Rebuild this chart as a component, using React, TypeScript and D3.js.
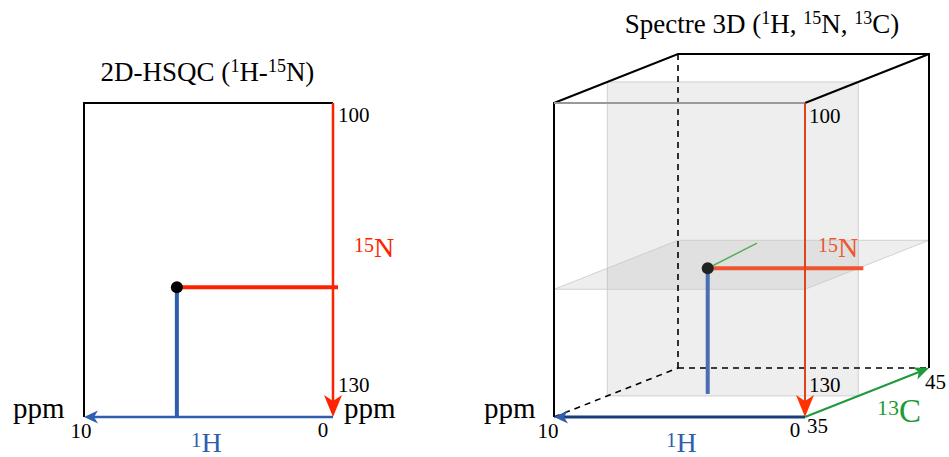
import React from "react";
import * as d3 from "d3";

// ---- data ----
const H_TICKS = [10, 0];          // 1H ppm (left → right)
const N_TICKS = [100, 130];       // 15N ppm (top → bottom)
const C_TICKS = [35, 45];         // 13C ppm (front → back)
const TITLES = ["2D-HSQC", "Spectre 3D"];
const PEAK_2D = { h: 6.27, n: 117.6 };
const PEAK_3D = { h: 6.0, n: 117.8, c: 39.3 };

const W = 949, HGT = 457;
const SERIF = "'Liberation Serif', 'DejaVu Serif', serif";

const RED = "#ff2200";
const RED3 = "#e0421c";
const RED3H = "#ee5530";
const BLUE = "#2e5fae";
const BLUE3 = "#4a6db3";
const NAVY = "#1d3d78";
const GREEN = "#1f9a3a";
const GREEN_L = "#55b055";
const TICK = 21;

function arrowHead(tip: [number, number], from: [number, number], L: number, Wd: number, notch: number) {
  const dx = tip[0] - from[0], dy = tip[1] - from[1];
  const len = Math.hypot(dx, dy);
  const ux = dx / len, uy = dy / len;
  const px = -uy, py = ux;
  const bx = tip[0] - ux * L, by = tip[1] - uy * L;
  const nx = tip[0] - ux * (L - notch), ny = tip[1] - uy * (L - notch);
  const p = d3.path();
  p.moveTo(tip[0], tip[1]);
  p.lineTo(bx + px * Wd, by + py * Wd);
  p.lineTo(nx, ny);
  p.lineTo(bx - px * Wd, by - py * Wd);
  p.closePath();
  return p.toString();
}

function SupLabel({ x, y, sup, main, color, big, small }: any) {
  const raise = 0.66 * (big - small);
  return (
    <text x={x} y={y} fill={color} fontFamily={SERIF} fontSize={big}>
      <tspan fontSize={small} dy={-raise}>{sup}</tspan>
      <tspan dy={raise}>{main}</tspan>
    </text>
  );
}

function Left() {
  const x = d3.scaleLinear().domain(H_TICKS).range([84, 333]);
  const y = d3.scaleLinear().domain(N_TICKS).range([103, 417]);
  const [h0, h1] = H_TICKS; const [n0, n1] = N_TICKS;
  const px = x(PEAK_2D.h), py = y(PEAK_2D.n);
  const line = d3.line();
  return (
    <g>
      <text x={(x(h0) + x(h1)) / 2 - 1} y={81} fontFamily={SERIF} fontSize={27} textAnchor="middle">
        {TITLES[0] + " ("}
        <tspan fontSize={18} dy={-9}>1</tspan>
        <tspan dy={9}>H-</tspan>
        <tspan fontSize={18} dy={-9}>15</tspan>
        <tspan dy={9}>N)</tspan>
      </text>
      {/* frame */}
      <path d={line([[x(h0), y(n1)], [x(h0), y(n0)], [x(h1), y(n0)]])!} fill="none" stroke="#000" strokeWidth={2} />
      {/* 15N axis */}
      <line x1={x(h1)} y1={y(n0)} x2={x(h1)} y2={y(n1) - 14} stroke={RED} strokeWidth={2.5} />
      <path d={arrowHead([x(h1), y(n1)], [x(h1), y(n0)], 22, 9, 6)} fill={RED} />
      {/* 1H axis */}
      <line x1={x(h1)} y1={y(n1)} x2={x(h0) + 8} y2={y(n1)} stroke={BLUE} strokeWidth={2.5} />
      <path d={arrowHead([x(h0), y(n1)], [x(h1), y(n1)], 14, 6.5, 4)} fill={BLUE} />
      {/* peak projections */}
      <line x1={px} y1={py} x2={x(h1) + 5} y2={py} stroke={RED} strokeWidth={4} />
      <line x1={px} y1={py} x2={px} y2={y(n1)} stroke={BLUE} strokeWidth={4} />
      <circle cx={px} cy={py} r={6} fill="#000" />
      {/* tick labels */}
      <text x={x(h1) + 5} y={y(n0) + 19} fontFamily={SERIF} fontSize={TICK}>{N_TICKS[0]}</text>
      <text x={x(h1) + 5} y={y(n1) - 25} fontFamily={SERIF} fontSize={TICK}>{N_TICKS[1]}</text>
      <text x={x(h0) - 3} y={y(n1) + 21} fontFamily={SERIF} fontSize={TICK} textAnchor="middle">{H_TICKS[0]}</text>
      <text x={x(h1) - 10} y={y(n1) + 20} fontFamily={SERIF} fontSize={TICK} textAnchor="middle">{H_TICKS[1]}</text>
      <text x={x(h0) - 71} y={y(n1) + 1} fontFamily={SERIF} fontSize={29}>ppm</text>
      <text x={x(h1) + 11} y={y(n1) + 1} fontFamily={SERIF} fontSize={29}>ppm</text>
      <SupLabel x={x(h1) + 21} y={257} sup="15" main="N" color={RED} big={28} small={20} />
      <SupLabel x={191} y={452} sup="1" main="H" color={BLUE} big={28} small={21} />
    </g>
  );
}

function Right() {
  const x = d3.scaleLinear().domain(H_TICKS).range([554, 805]);
  const y = d3.scaleLinear().domain(N_TICKS).range([103, 417]);
  const c = d3.scaleLinear().domain(C_TICKS).range([0, 1]);
  const DX = 124, DY = -49;
  const P = (h: number, n: number, cc: number): [number, number] => [x(h) + c(cc) * DX, y(n) + c(cc) * DY];
  const [h0, h1] = H_TICKS; const [n0, n1] = N_TICKS; const [c0, c1] = C_TICKS;
  const line = d3.line();
  const poly = (pts: [number, number][]) => line(pts)! + "Z";
  const dot = P(PEAK_3D.h, PEAK_3D.n, PEAK_3D.c);
  const dash = "6,5";
  return (
    <g>
      <text x={762} y={33} fontFamily={SERIF} fontSize={27} textAnchor="middle">
        {TITLES[1] + " ("}
        <tspan fontSize={18} dy={-9}>1</tspan>
        <tspan dy={9}>H, </tspan>
        <tspan fontSize={18} dy={-9}>15</tspan>
        <tspan dy={9}>N, </tspan>
        <tspan fontSize={18} dy={-9}>13</tspan>
        <tspan dy={9}>C)</tspan>
      </text>
      {/* planes */}
      <path d={poly([P(h0, n0, PEAK_3D.c), P(h1, n0, PEAK_3D.c), P(h1, n1, PEAK_3D.c), P(h0, n1, PEAK_3D.c)])}
        fill="#9a9a9a" fillOpacity={0.17} stroke="#c8c8c8" strokeWidth={0.8} />
      <path d={poly([P(h0, PEAK_3D.n, c0), P(h1, PEAK_3D.n, c0), P(h1, PEAK_3D.n, c1), P(h0, PEAK_3D.n, c1)])}
        fill="#9a9a9a" fillOpacity={0.17} stroke="#c8c8c8" strokeWidth={0.8} />
      {/* hidden edges */}
      <line x1={P(h0, n0, c1)[0]} y1={P(h0, n0, c1)[1]} x2={P(h0, n1, c1)[0]} y2={P(h0, n1, c1)[1]} stroke="#000" strokeWidth={1.6} strokeDasharray={dash} />
      <line x1={P(h0, n1, c1)[0]} y1={P(h0, n1, c1)[1]} x2={P(h1, n1, c1)[0]} y2={P(h1, n1, c1)[1]} stroke="#000" strokeWidth={1.6} strokeDasharray={dash} />
      <line x1={P(h0, n1, c0)[0]} y1={P(h0, n1, c0)[1]} x2={P(h0, n1, c1)[0]} y2={P(h0, n1, c1)[1]} stroke="#000" strokeWidth={1.6} strokeDasharray={dash} />
      {/* visible edges */}
      <path d={line([P(h0, n1, c0), P(h0, n0, c0), P(h0, n0, c1), P(h1, n0, c1), P(h1, n1, c1)])!} fill="none" stroke="#000" strokeWidth={2} />
      <line x1={P(h1, n0, c0)[0]} y1={P(h1, n0, c0)[1]} x2={P(h1, n0, c1)[0]} y2={P(h1, n0, c1)[1]} stroke="#000" strokeWidth={2} />
      <line x1={P(h0, n0, c0)[0]} y1={P(h0, n0, c0)[1]} x2={P(h1, n0, c0)[0]} y2={P(h1, n0, c0)[1]} stroke="#999" strokeWidth={2} />
      {/* peak projections */}
      <line x1={dot[0]} y1={dot[1]} x2={P(h1, PEAK_3D.n, PEAK_3D.c)[0] + 5} y2={dot[1]} stroke={RED3H} strokeWidth={4} />
      <line x1={dot[0]} y1={dot[1]} x2={dot[0]} y2={P(PEAK_3D.h, n1, PEAK_3D.c)[1] - 2} stroke={BLUE3} strokeWidth={4} />
      <line x1={dot[0]} y1={dot[1]} x2={P(PEAK_3D.h, PEAK_3D.n, 43.2)[0] + 1} y2={P(PEAK_3D.h, PEAK_3D.n, 43.2)[1] - 6} stroke={GREEN_L} strokeWidth={1.5} />
      <circle cx={dot[0]} cy={dot[1]} r={6} fill="#222" />
      {/* axes */}
      <line x1={x(h1)} y1={y(n0)} x2={x(h1)} y2={y(n1) - 14} stroke={RED3} strokeWidth={2} />
      <path d={arrowHead([x(h1), y(n1)], [x(h1), y(n0)], 22, 9, 6)} fill="#ff3300" />
      <line x1={x(h1)} y1={y(n1)} x2={x(h0) + 8} y2={y(n1)} stroke={NAVY} strokeWidth={3} />
      <path d={arrowHead([x(h0), y(n1)], [x(h1), y(n1)], 14, 6.5, 4)} fill={BLUE} />
      <line x1={P(h1, n1, c0)[0]} y1={P(h1, n1, c0)[1]} x2={P(h1, n1, c1)[0] - 10} y2={P(h1, n1, c1)[1] + 4} stroke={GREEN} strokeWidth={2} />
      <path d={arrowHead(P(h1, n1, c1), P(h1, n1, c0), 15, 6.5, 4)} fill={GREEN} />
      {/* labels */}
      <text x={x(h1) + 4} y={y(n0) + 20} fontFamily={SERIF} fontSize={TICK}>{N_TICKS[0]}</text>
      <text x={x(h1) + 4} y={y(n1) - 25} fontFamily={SERIF} fontSize={TICK}>{N_TICKS[1]}</text>
      <text x={x(h0) - 6} y={y(n1) + 21} fontFamily={SERIF} fontSize={TICK} textAnchor="middle">{H_TICKS[0]}</text>
      <text x={x(h1) - 10} y={y(n1) + 20} fontFamily={SERIF} fontSize={TICK} textAnchor="middle">{H_TICKS[1]}</text>
      <text x={P(h1, n1, c0)[0] + 2} y={y(n1) + 16} fontFamily={SERIF} fontSize={TICK}>{C_TICKS[0]}</text>
      <text x={P(h1, n1, c1)[0] - 4} y={P(h1, n1, c1)[1] + 21} fontFamily={SERIF} fontSize={TICK}>{C_TICKS[1]}</text>
      <text x={x(h0) - 70} y={y(n1) + 1} fontFamily={SERIF} fontSize={29}>ppm</text>
      <SupLabel x={x(h1) + 13} y={257} sup="15" main="N" color={RED3H} big={28} small={20} />
      <SupLabel x={666} y={452} sup="1" main="H" color={BLUE} big={28} small={21} />
      <SupLabel x={877} y={422} sup="13" main="C" color={GREEN} big={33} small={22} />
    </g>
  );
}

export default function App() {
  return (
    <svg width={W} height={HGT} style={{ position: "absolute", left: 0, top: 0, background: "#fff" }}>
      <rect width={W} height={HGT} fill="#fff" />
      <Left />
      <Right />
    </svg>
  );
}
